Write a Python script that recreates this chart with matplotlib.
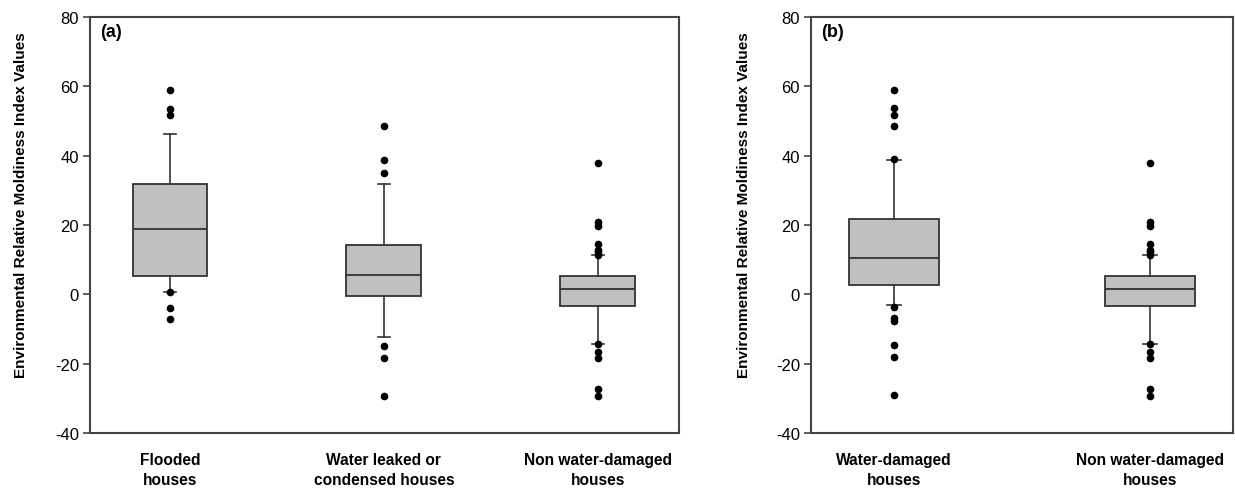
import matplotlib
matplotlib.use("Agg")
import matplotlib.pyplot as plt

plt.rcParams['font.family'] = ['Liberation Sans', 'DejaVu Sans']
plt.rcParams['axes.unicode_minus'] = False

# panel (a)
labels_a = ["Flooded\nhouses", "Water leaked or\ncondensed houses", "Non water-damaged\nhouses"]
med_a = [18.7, 5.6, 1.5]
q1_a = [5.3, -0.4, -3.5]
q3_a = [31.8, 14.1, 5.4]
wlo_a = [0.6, -12.4, -14.2]
whi_a = [46.3, 31.8, 11.4]
fliers_a = [
    [58.9, 53.4, 51.7, 0.6, -4.0, -7.1],
    [48.5, 38.7, 35.0, -14.9, -18.5, -29.4],
    [37.9, 20.8, 19.8, 14.5, 12.9, 12.1, 11.4, -14.2, -16.7, -18.4, -27.3, -29.4],
]

# panel (b)
labels_b = ["Water-damaged\nhouses", "Non water-damaged\nhouses"]
med_b = [10.4, 1.5]
q1_b = [2.6, -3.5]
q3_b = [21.6, 5.4]
wlo_b = [-3.0, -14.2]
whi_b = [38.8, 11.4]
fliers_b = [
    [59.0, 53.7, 51.8, 48.5, 39.0, -3.8, -6.8, -7.8, -14.6, -18.2, -29.1],
    [37.9, 20.8, 19.8, 14.5, 12.9, 12.1, 11.4, -14.2, -16.7, -18.4, -27.3, -29.4],
]

ylabel = "Environmental Relative Moldiness Index Values"
edge = "#333333"


def make_stats(med, q1, q3, wlo, whi, fl):
    return [dict(med=m, q1=a, q3=b, whislo=lo, whishi=hi, fliers=f)
            for m, a, b, lo, hi, f in zip(med, q1, q3, wlo, whi, fl)]


def draw(ax, stats, labels, xlim, tag, tagx, labx):
    n = len(stats)
    ax.bxp(stats, positions=range(1, n + 1), widths=0.35, capwidths=0.056,
           patch_artist=True, showfliers=True,
           boxprops=dict(facecolor="#c0c0c0", edgecolor=edge, linewidth=1.3),
           medianprops=dict(color=edge, linewidth=1.3),
           whiskerprops=dict(color=edge, linewidth=1.2),
           capprops=dict(color=edge, linewidth=1.2),
           flierprops=dict(marker="o", markerfacecolor="black",
                           markeredgecolor="black", markersize=4.5))
    ax.set_xlim(*xlim)
    ax.set_ylim(-40, 80)
    ax.set_yticks(range(-40, 81, 20))
    ax.set_xticks(range(1, n + 1))
    ax.set_xticklabels(labels, fontsize=11.2, fontweight="bold", linespacing=1.4)
    ax.tick_params(axis="x", length=0, pad=14)
    ax.tick_params(axis="y", direction="out", length=5, width=1.2,
                   color="#444444", labelsize=12, pad=3)
    for s in ax.spines.values():
        s.set_color("#444444")
        s.set_linewidth(1.5)
    ax.text(tagx, 0.985, tag, transform=ax.transAxes, fontsize=13,
            fontweight="bold", va="top", ha="left")
    ax.set_ylabel(ylabel, fontsize=11, fontweight="bold")
    ax.yaxis.set_label_coords(labx, 0.55)


fig = plt.figure(figsize=(12.35, 4.89), dpi=100)
ax1 = fig.add_axes([0.0729, 0.1125, 0.4769, 0.8507])
ax2 = fig.add_axes([0.6567, 0.1125, 0.3417, 0.8507])

draw(ax1, make_stats(med_a, q1_a, q3_a, wlo_a, whi_a, fliers_a), labels_a,
     (0.626, 3.38), "(a)", 0.017, -0.105)
draw(ax2, make_stats(med_b, q1_b, q3_b, wlo_b, whi_b, fliers_b), labels_b,
     (0.677, 2.324), "(b)", 0.023, -0.143)

fig.savefig("out.png", dpi=100)
